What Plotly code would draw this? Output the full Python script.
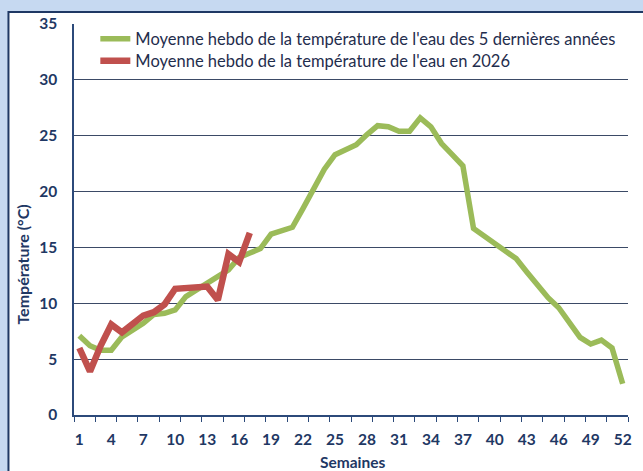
import plotly.graph_objects as go

weeks = list(range(1, 53))
avg5 = [7.1, 6.2, 5.8, 5.8, 7.0, 7.6, 8.2, 9.0, 9.1, 9.4,
        10.6, 11.2, 11.8, 12.3, 13.0, 14.1, 14.5, 14.9, 16.2, 16.5,
        16.8, 18.5, 20.3, 22.0, 23.3, 23.7, 24.2, 25.1, 25.9, 25.8,
        25.4, 25.4, 26.6, 25.8, 24.3, 23.3, 22.3, 16.7, 16.0, 15.4,
        14.6, 14.0, 12.8, 11.6, 10.5, 9.6, 8.3, 6.95, 6.35, 6.7,
        6.0, 2.8]
weeks_2026 = list(range(1, 18))
temp_2026 = [6.0, 3.9, 6.2, 8.1, 7.4, 8.2, 8.9, 9.2, 9.9, 11.3,
             11.4, 11.5, 11.5, 10.3, 14.4, 13.7, 16.3]

x_labels = list(range(1, 53, 3))
y_ticks = list(range(0, 36, 5))

name_avg = "Moyenne hebdo de la température de l'eau des 5 dernières années"
name_2026 = "Moyenne hebdo de la température de l'eau en 2026"

NAVY = "#1f3864"
FONT = "Lato"
LEG_FONT = dict(family=FONT, size=16.5, color="#1f2d4d")

fig = go.Figure()
fig.add_trace(go.Scatter(x=weeks, y=avg5, mode="lines", name=name_avg,
                         line=dict(color="#9bbb59", width=5.5), legend="legend"))
fig.add_trace(go.Scatter(x=weeks_2026, y=temp_2026, mode="lines", name=name_2026,
                         line=dict(color="#c0504d", width=6.5), legend="legend2"))

# outer white frame
fig.add_shape(type="rect", xref="paper", yref="paper",
              x0=-0.1183, x1=1.05, y0=-0.2, y1=1.0307,
              fillcolor="white", line=dict(color=NAVY, width=2), layer="below")

fig.update_layout(
    width=643, height=471,
    margin=dict(l=74, r=11, t=24, b=56),
    paper_bgcolor="#c6d9f1",
    plot_bgcolor="rgba(0,0,0,0)",
    font=dict(family=FONT, color=NAVY),
    showlegend=True,
    legend=dict(x=0.0385, y=0.9616, xanchor="left", yanchor="middle",
                bgcolor="rgba(0,0,0,0)", borderwidth=0, font=LEG_FONT, itemwidth=30),
    legend2=dict(x=0.0385, y=0.9054, xanchor="left", yanchor="middle",
                 bgcolor="rgba(0,0,0,0)", borderwidth=0, font=LEG_FONT, itemwidth=30),
    xaxis=dict(range=[0.5, 52.5], tickmode="array", tickvals=x_labels,
               ticktext=[str(v) for v in x_labels], ticks="",
               showgrid=False, zeroline=False, showline=True,
               linecolor="#2c4a7a", linewidth=1.5,
               tickfont=dict(family=FONT, size=15.5, color=NAVY, weight="bold"),
               ticklabelstandoff=10,
               minor=dict(tick0=0.5, dtick=2, ticks="outside", ticklen=5,
                          tickcolor="#2c4a7a", tickwidth=1.2, showgrid=False)),
    yaxis=dict(range=[0, 35], tickmode="array", tickvals=y_ticks, ticks="",
               showgrid=True, gridcolor="#3b4a66", gridwidth=1.3,
               zeroline=False, showline=True, linecolor="#2c4a7a", linewidth=1.5,
               tickfont=dict(family=FONT, size=15.5, color=NAVY, weight="bold"),
               ticklabelstandoff=12),
    annotations=[
        dict(text="<b>Semaines</b>", xref="paper", yref="paper",
             x=0.503, y=-0.120, xanchor="center", yanchor="middle",
             showarrow=False, font=dict(family=FONT, size=15.5, color=NAVY)),
        dict(text="<b>Température (°C)</b>", xref="paper", yref="paper",
             x=-0.093, y=0.386, xanchor="center", yanchor="middle", textangle=-90,
             showarrow=False, font=dict(family=FONT, size=16, color=NAVY)),
    ],
)

fig.write_html("out.html", config={"displayModeBar": False})

# remove the default 8px body margin so the figure fills the window
with open("out.html", encoding="utf-8") as f:
    html = f.read()
html = html.replace("<body>", '<body style="margin:0;padding:0;overflow:hidden;background:#c6d9f1">', 1)
with open("out.html", "w", encoding="utf-8") as f:
    f.write(html)
